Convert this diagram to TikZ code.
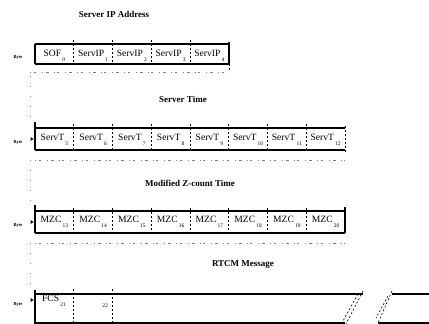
\documentclass[tikz,border=0pt]{standalone}
\usepackage{fontspec}
\setmainfont{Liberation Serif}
\newcommand\bytenum[1]{\hspace{1.2pt}\raisebox{-4.5pt}{\fontsize{5.5}{6}\selectfont #1}}
\begin{document}
\begin{tikzpicture}[x=1pt,y=-1pt,
  frame/.style={line width=1.1pt},
  divider/.style={dash pattern=on 2pt off 2pt, line width=0.6pt},
  cell/.style={font=\fontsize{9.6}{10}\selectfont, inner sep=0pt},
  title/.style={font=\bfseries\fontsize{9}{10}\selectfont, inner sep=0pt},
  bytelbl/.style={font=\bfseries\fontsize{4.5}{5}\selectfont, inner sep=0pt},
  noise/.style={line width=0.6pt, gray, dash pattern=on 1pt off 2.5pt on 2pt off 6pt on 1pt off 3pt on 3pt off 5pt},
  vnoise/.style={line width=0.7pt, gray, dash pattern=on 1pt off 9pt},
  marker/.style={fill=black}]
\useasboundingbox (0,0) rectangle (429,324);

% ---------- titles
\node[title] (t1) at (114,14) {Server IP Address};
\node[title] (t2) at (183,99) {Server Time};
\node[title] (t3) at (190,183) {Modified Z-count Time};
\node[title] (t4) at (243,265) {RTCM Message};

% ---------- row 1
\draw[frame] (35,44) -- (229,44);
\draw[frame] (35,64) -- (229,64);
\draw[frame] (35,44) -- (35,64);
\draw[frame] (229,42) -- (229,64);
\draw[divider] (229,64) -- (229,72);
\foreach \i in {1,...,4}
  \draw[divider] ({35+38.75*\i},40) -- ({35+38.75*\i},65);
\node[cell] (sof) at ({35+38.75*0.5},56) {SOF\bytenum{0}};
\foreach \i in {1,...,4}
  \node[cell] (sip\i) at ({35+38.75*(\i+0.5)},56) {ServIP\bytenum{\i}};
\node[bytelbl] (b1) at (18,58) {Byte};
\draw[noise] (30,72) -- (229,72);

% ---------- row 2
\draw[frame] (35,128) -- (345,128);
\draw[frame] (35,150) -- (345,150);
\draw[frame] (35,122) -- (35,150);
\draw[divider] (345,126) -- (345,152);
\foreach \i in {1,...,7}
  \draw[divider] ({35+38.75*\i},124) -- ({35+38.75*\i},151);
\foreach \i in {0,...,7}{
  \pgfmathtruncatemacro\n{\i+5}
  \node[cell] (st\n) at ({35+38.75*(\i+0.5)},140) {ServT\bytenum{\n}};
}
\node[bytelbl] (b2) at (18,143) {Byte};
\fill[marker] (30.5,137) -- (33.5,139) -- (30.5,141) -- cycle;
\draw[noise] (35,160) -- (345,160);

% ---------- row 3
\draw[frame] (35,211) -- (345,211);
\draw[frame] (35,233) -- (345,233);
\draw[frame] (35,205) -- (35,233);
\draw[frame] (345,207) -- (345,233);
\foreach \i in {1,...,7}
  \draw[divider] ({35+38.75*\i},208) -- ({35+38.75*\i},234);
\foreach \i in {0,...,7}{
  \pgfmathtruncatemacro\n{\i+13}
  \node[cell] (mz\n) at ({35+38.75*(\i+0.5)},222) {MZC\bytenum{\n}};
}
\node[bytelbl] (b3) at (18,226) {Byte};
\fill[marker] (30.5,220) -- (33.5,222) -- (30.5,224) -- cycle;
\draw[noise] (35,243) -- (345,243);

% ---------- row 4
\draw[frame] (35,294) -- (363,294);
\draw[frame] (35,323) -- (345,323);
\draw[frame] (35,290) -- (35,324);
\draw[divider] (73.75,289) -- (73.75,324);
\draw[divider] (112.5,289) -- (112.5,324);
\draw[divider] (363,291) -- (346,324);
\draw[divider] (358,294) -- (343,321);
\draw[divider] (392,291) -- (378,323);
\draw[divider] (388,296) -- (376,318);
\draw[frame] (392,294) -- (429,294);
\draw[frame] (378,323) -- (429,323);
\node[cell] (fcs) at (54,301) {FCS\bytenum{21}};
\node[cell, font=\fontsize{5.5}{6}\selectfont] (n22) at (105,306) {22};
\node[bytelbl] (b4) at (18,305) {Byte};
\fill[marker] (30.5,298) -- (33.5,300) -- (30.5,302) -- cycle;

% ---------- left scan dots
\draw[vnoise] (30,76) -- (30,120);
\draw[vnoise] (30,160) -- (30,205);
\draw[vnoise] (30,243) -- (30,290);
\end{tikzpicture}
\end{document}
